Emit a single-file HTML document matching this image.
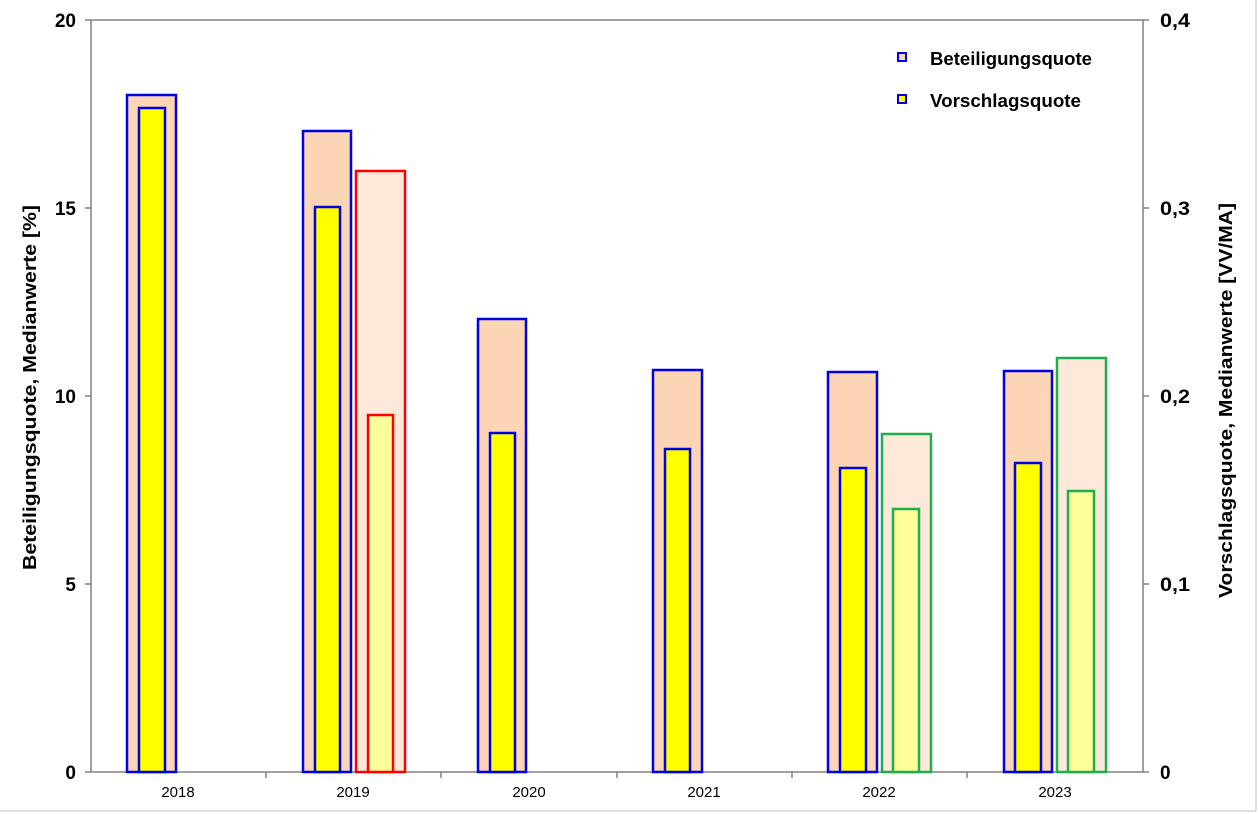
<!DOCTYPE html>
<html><head><meta charset="utf-8"><style>
body{margin:0;background:#fff;}
svg{display:block;font-family:"Liberation Sans",Arial,sans-serif;}
</style></head><body>
<svg width="1259" height="814" viewBox="0 0 1259 814">
<rect x="0" y="0" width="1259" height="814" fill="#fff"/>
<line x1="1256" y1="0" x2="1256" y2="811" stroke="#e0e0e0" stroke-width="2"/>
<line x1="0" y1="811" x2="1256" y2="811" stroke="#e0e0e0" stroke-width="2"/>
<g stroke="#808080" stroke-width="1.5" fill="none">
<line x1="91" y1="20" x2="1143" y2="20"/>
<line x1="91" y1="20" x2="91" y2="772"/>
<line x1="1143" y1="20" x2="1143" y2="772"/>
<line x1="91" y1="772" x2="1143" y2="772"/>
<line x1="85" y1="20" x2="91" y2="20"/><line x1="85" y1="208" x2="91" y2="208"/><line x1="85" y1="396" x2="91" y2="396"/><line x1="85" y1="584" x2="91" y2="584"/><line x1="85" y1="772" x2="91" y2="772"/>
<line x1="1143" y1="20" x2="1149" y2="20"/><line x1="1143" y1="208" x2="1149" y2="208"/><line x1="1143" y1="396" x2="1149" y2="396"/><line x1="1143" y1="584" x2="1149" y2="584"/><line x1="1143" y1="772" x2="1149" y2="772"/>
<line x1="266" y1="772" x2="266" y2="778"/><line x1="441" y1="772" x2="441" y2="778"/><line x1="617" y1="772" x2="617" y2="778"/><line x1="792" y1="772" x2="792" y2="778"/><line x1="967" y1="772" x2="967" y2="778"/>
</g>
<g font-size="19" font-weight="bold" fill="#000">
<text x="76" y="27" text-anchor="end">20</text>
<text x="76" y="215" text-anchor="end">15</text>
<text x="76" y="403" text-anchor="end">10</text>
<text x="76" y="591" text-anchor="end">5</text>
<text x="76" y="779" text-anchor="end">0</text>
<text x="1160" y="27" textLength="30" lengthAdjust="spacingAndGlyphs">0,4</text>
<text x="1160" y="215" textLength="30" lengthAdjust="spacingAndGlyphs">0,3</text>
<text x="1160" y="403" textLength="30" lengthAdjust="spacingAndGlyphs">0,2</text>
<text x="1160" y="591" textLength="30" lengthAdjust="spacingAndGlyphs">0,1</text>
<text x="1160" y="779">0</text>
</g>
<g font-size="15" fill="#000" text-anchor="middle">
<text x="178" y="797">2018</text><text x="353" y="797">2019</text><text x="529" y="797">2020</text>
<text x="704" y="797">2021</text><text x="879" y="797">2022</text><text x="1055" y="797">2023</text>
</g>
<text transform="translate(36,570) rotate(-90)" font-size="18" font-weight="bold" textLength="365" lengthAdjust="spacingAndGlyphs">Beteiligungsquote, Medianwerte [%]</text>
<text transform="translate(1232,598) rotate(-90)" font-size="18" font-weight="bold" textLength="395" lengthAdjust="spacingAndGlyphs">Vorschlagsquote, Medianwerte [VV/MA]</text>
<g stroke-width="2.5">
<rect x="127" y="95" width="49" height="677" fill="#fcd5b4" stroke="#0000e0"/>
<rect x="139" y="108" width="26" height="664" fill="#ffff00" stroke="#0000e0"/>
<rect x="303" y="131" width="48" height="641" fill="#fcd5b4" stroke="#0000e0"/>
<rect x="315" y="207" width="25" height="565" fill="#ffff00" stroke="#0000e0"/>
<rect x="356" y="171" width="49" height="601" fill="#fde9d9" stroke="#ff0000"/>
<rect x="368" y="415" width="25" height="357" fill="#ffff99" stroke="#ff0000"/>
<rect x="478" y="319" width="48" height="453" fill="#fcd5b4" stroke="#0000e0"/>
<rect x="490" y="433" width="25" height="339" fill="#ffff00" stroke="#0000e0"/>
<rect x="653" y="370" width="49" height="402" fill="#fcd5b4" stroke="#0000e0"/>
<rect x="665" y="449" width="25" height="323" fill="#ffff00" stroke="#0000e0"/>
<rect x="828" y="372" width="49" height="400" fill="#fcd5b4" stroke="#0000e0"/>
<rect x="840" y="468" width="26" height="304" fill="#ffff00" stroke="#0000e0"/>
<rect x="882" y="434" width="49" height="338" fill="#fde9d9" stroke="#1fae4c"/>
<rect x="893" y="509" width="26" height="263" fill="#ffff99" stroke="#1fae4c"/>
<rect x="1004" y="371" width="48" height="401" fill="#fcd5b4" stroke="#0000e0"/>
<rect x="1015" y="463" width="26" height="309" fill="#ffff00" stroke="#0000e0"/>
<rect x="1057" y="358" width="49" height="414" fill="#fde9d9" stroke="#1fae4c"/>
<rect x="1068" y="491" width="26" height="281" fill="#ffff99" stroke="#1fae4c"/>
</g>
<rect x="898" y="53" width="8" height="8" fill="#fcd5b4" stroke="#0000e0" stroke-width="2"/>
<rect x="898" y="95" width="8" height="8" fill="#ffff00" stroke="#0000e0" stroke-width="2"/>
<text x="930" y="65" font-size="18" font-weight="bold" textLength="162" lengthAdjust="spacingAndGlyphs">Beteiligungsquote</text>
<text x="930" y="107" font-size="18" font-weight="bold" textLength="151" lengthAdjust="spacingAndGlyphs">Vorschlagsquote</text>
</svg>
</body></html>
